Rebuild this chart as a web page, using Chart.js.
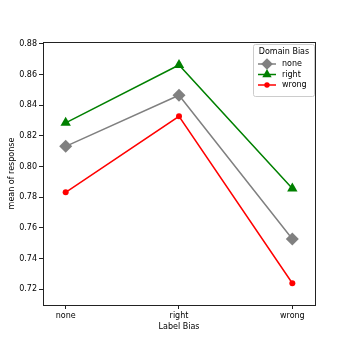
<!DOCTYPE html>
<html><head><meta charset="utf-8">
<script src="https://cdn.jsdelivr.net/npm/chart.js@4"></script>
<style>html,body{margin:0;padding:0;background:#fff}#w{width:349px;height:349px}</style>
</head><body><div id="w"><canvas id="c" width="349" height="349"></canvas></div>
<script>
const categories = ["none", "right", "wrong"];
const seriesNames = ["none", "right", "wrong"];
const noneValues = [0.8132, 0.8465, 0.7528];
const rightValues = [0.8285, 0.8662, 0.7858];
const wrongValues = [0.7832, 0.8328, 0.7240];
const yTicks = [0.72, 0.74, 0.76, 0.78, 0.80, 0.82, 0.84, 0.86, 0.88];

const FONT = "DejaVu Sans";
const colors = ["#808080", "#008000", "#ff0000"];
const styles = ["rectRot", "triangle", "circle"];
const radii = [6.5, 6, 3];
const allVals = [noneValues, rightValues, wrongValues];

const datasets = allVals.map((vals, k) => ({
  label: seriesNames[k],
  data: vals.map((v, i) => ({x: i, y: v})),
  borderColor: colors[k],
  backgroundColor: colors[k],
  borderWidth: 1.5,
  pointStyle: styles[k],
  pointRadius: radii[k],
  pointBorderWidth: 0,
  pointHoverRadius: radii[k],
  tension: 0
}));

const framePlugin = {
  id: 'frame',
  afterDraw(chart) {
    const {ctx, chartArea: a} = chart;
    ctx.save();
    ctx.strokeStyle = '#222';
    ctx.lineWidth = 1;
    ctx.strokeRect(Math.round(a.left) + 0.5, Math.round(a.top) + 0.5, Math.round(a.right - a.left), Math.round(a.bottom - a.top));
    // legend
    const lx = 253, ly = 44, lw = 61, lh = 52;
    ctx.fillStyle = 'rgba(255,255,255,0.8)';
    ctx.strokeStyle = '#cccccc';
    ctx.beginPath();
    if (ctx.roundRect) ctx.roundRect(lx + 0.5, ly + 0.5, lw, lh, 2); else ctx.rect(lx + 0.5, ly + 0.5, lw, lh);
    ctx.fill(); ctx.stroke();
    ctx.fillStyle = '#000';
    ctx.font = '8px ' + FONT;
    ctx.textAlign = 'center';
    ctx.textBaseline = 'middle';
    ctx.fillText('Domain Bias', lx + lw / 2 + 0.5, ly + 8);
    const ys = [64, 74.5, 85];
    seriesNames.forEach((n, k) => {
      const y = ys[k];
      ctx.strokeStyle = colors[k];
      ctx.lineWidth = 1.5;
      ctx.beginPath(); ctx.moveTo(258, y); ctx.lineTo(276, y); ctx.stroke();
      ctx.fillStyle = colors[k];
      Chart.helpers.drawPoint(ctx, {pointStyle: styles[k], radius: radii[k] * 0.9, borderWidth: 0}, 267, y);
      ctx.fillStyle = '#000';
      ctx.textAlign = 'left';
      ctx.fillText(n, 282, y);
    });
    ctx.restore();
  }
};

new Chart(document.getElementById('c'), {
  type: 'line',
  data: {datasets},
  options: {
    responsive: false,
    animation: false,
    layout: {padding: {top: 42, right: 34, left: 3, bottom: 13}},
    plugins: {legend: {display: false}, tooltip: {enabled: false}},
    scales: {
      x: {
        type: 'linear', min: -0.2, max: 2.2,
        afterBuildTicks(s) { s.ticks = categories.map((c, i) => ({value: i})); },
        afterFit(s) { s.height = 31; },
        ticks: {callback: (v) => categories[v], color: '#000', font: {family: FONT, size: 8}, padding: 2, maxRotation: 0},
        grid: {display: true, drawOnChartArea: false, drawTicks: true, tickLength: 4, color: '#222'},
        border: {display: false},
        title: {display: true, text: 'Label Bias', color: '#000', font: {family: FONT, size: 8}, padding: {top: 1}}
      },
      y: {
        type: 'linear', min: 0.7098, max: 0.8812,
        afterBuildTicks(s) { s.ticks = yTicks.map(v => ({value: v})); },
        afterFit(s) { s.width = 40; },
        ticks: {callback: (v) => v.toFixed(2), color: '#000', font: {family: FONT, size: 8}, padding: 2},
        grid: {display: true, drawOnChartArea: false, drawTicks: true, tickLength: 4, color: '#222'},
        border: {display: false},
        title: {display: true, text: 'mean of response', color: '#000', font: {family: FONT, size: 8}, padding: {bottom: 2}}
      }
    }
  },
  plugins: [framePlugin]
});
</script>
</body></html>
